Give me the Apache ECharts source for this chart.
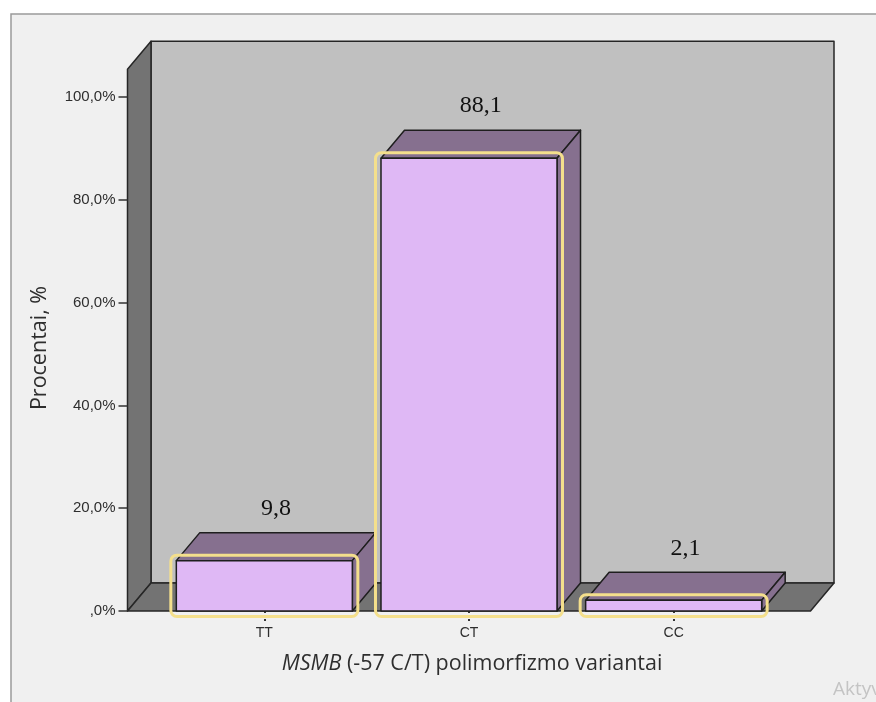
<!DOCTYPE html>
<html>
<head>
<meta charset="utf-8">
<script src="https://cdn.jsdelivr.net/npm/echarts@6/dist/echarts.min.js"></script>
<style>
  html, body { margin: 0; padding: 0; background: #ffffff; }
  #chart { width: 876px; height: 702px; }
</style>
</head>
<body>
<div id="chart"></div>
<script>
// Genotype frequencies, percent
const categories = ['TT', 'CT', 'CC'];
const percentValues = [9.8, 88.1, 2.1];
const yTickValues = [0, 20, 40, 60, 80, 100];

// Layout of the pseudo-3D box
const W = 876, H = 702;
const GRID_LEFT = 162, GRID_RIGHT = 100, GRID_TOP = 97, GRID_BOTTOM = 91;
const SIDE_PAD = 34.5;          // floor margin outside the outer bands
const DEPTH_X = 23.5, DEPTH_Y = -28;
const WALL_TOP = 105.4;         // value where the walls end
const BAR_RATIO = 0.86;

function fmtPct(v) { return v === 0 ? ',0%' : v.toFixed(1).replace('.', ',') + '%'; }
function fmtVal(v) { return v.toFixed(1).replace('.', ','); }

function renderBar(params, api) {
  const idx = api.value(0), v = api.value(1);
  const base = api.coord([idx, 0]);
  const top = api.coord([idx, v]);
  const bw = api.size([1, 0])[0] * BAR_RATIO;
  const x0 = base[0] - bw / 2, x1 = base[0] + bw / 2;
  const yb = base[1], yt = top[1];
  const edge = { stroke: '#1e1e1e', lineWidth: 1.5, lineJoin: 'round' };
  return {
    type: 'group',
    children: [
      { type: 'polygon', shape: { points: [[x0, yt], [x0 + DEPTH_X, yt + DEPTH_Y], [x1 + DEPTH_X, yt + DEPTH_Y], [x1, yt]] },
        style: Object.assign({ fill: '#86708f' }, edge) },
      { type: 'polygon', shape: { points: [[x1, yt], [x1 + DEPTH_X, yt + DEPTH_Y], [x1 + DEPTH_X, yb + DEPTH_Y], [x1, yb]] },
        style: Object.assign({ fill: '#86708f' }, edge) },
      { type: 'rect', shape: { x: x0, y: yt, width: bw, height: yb - yt },
        style: Object.assign({ fill: '#dfb8f5' }, edge) },
      { type: 'rect', shape: { x: x0 - 5.5, y: yt - 5.5, width: bw + 11, height: yb - yt + 11, r: 6 },
        style: { fill: 'none', stroke: '#f4df8c', lineWidth: 3 } },
      { type: 'text', x: base[0] + DEPTH_X / 2, y: yt + DEPTH_Y - 24,
        style: { text: fmtVal(v), font: '24px "Liberation Serif"', fill: '#111111', align: 'center', verticalAlign: 'middle' } }
    ]
  };
}

const chart = echarts.init(document.getElementById('chart'), null, { renderer: 'canvas' });

chart.setOption({
  backgroundColor: '#ffffff',
  animation: false,
  grid: { left: GRID_LEFT, right: GRID_RIGHT, top: GRID_TOP, bottom: GRID_BOTTOM },
  xAxis: {
    type: 'category',
    data: categories,
    axisLine: { show: false },
    axisTick: { show: true, alignWithLabel: true, length: 11, lineStyle: { color: '#333333', width: 2, type: [2, 2] } },
    axisLabel: { color: '#2e2e2e', fontSize: 14, fontFamily: 'Liberation Sans', margin: 15 },
    splitLine: { show: false }
  },
  yAxis: {
    type: 'value',
    min: 0,
    max: 100,
    interval: 20,
    offset: SIDE_PAD,
    axisLine: { show: false },
    axisTick: { show: true, length: 9, lineStyle: { color: '#333333', width: 1.5 } },
    axisLabel: { color: '#2e2e2e', fontSize: 15, fontFamily: 'Liberation Sans', margin: 12,
      customValues: yTickValues, formatter: fmtPct },
    splitLine: { show: false }
  },
  series: [{
    type: 'custom',
    data: percentValues.map((v, i) => [i, v]),
    encode: { x: 0, y: 1 },
    renderItem: renderBar,
    z: 5
  }]
});

// Walls, floor, frame and axis titles, placed from the axis scales
const y0 = chart.convertToPixel({ yAxisIndex: 0 }, 0);
const yT = chart.convertToPixel({ yAxisIndex: 0 }, WALL_TOP);
const fl = GRID_LEFT - SIDE_PAD;
const fr = W - GRID_RIGHT + SIDE_PAD;
const wallEdge = { stroke: '#262626', lineWidth: 1.5, lineJoin: 'round' };

chart.setOption({
  graphic: [
    { type: 'rect', z: -20, shape: { x: 11, y: 14, width: 900, height: 720 },
      style: { fill: '#f0f0f0', stroke: '#9a9a9a', lineWidth: 1.5 } },
    { type: 'rect', z: -10, shape: { x: fl + DEPTH_X, y: yT + DEPTH_Y, width: fr - fl, height: y0 - yT },
      style: Object.assign({ fill: '#c0c0c0' }, wallEdge) },
    { type: 'polygon', z: -9, shape: { points: [[fl, y0], [fl, yT], [fl + DEPTH_X, yT + DEPTH_Y], [fl + DEPTH_X, y0 + DEPTH_Y]] },
      style: Object.assign({ fill: '#737373' }, wallEdge) },
    { type: 'polygon', z: -9, shape: { points: [[fl, y0], [fr, y0], [fr + DEPTH_X, y0 + DEPTH_Y], [fl + DEPTH_X, y0 + DEPTH_Y]] },
      style: Object.assign({ fill: '#737373' }, wallEdge) },
    { type: 'text', z: 1, x: 40, y: 348, rotation: Math.PI / 2,
      style: { text: 'Procentai, %', font: '21.5px "Open Sans"', fill: '#2e2e2e', align: 'center', verticalAlign: 'middle' } },
    { type: 'text', z: 1, x: 472, y: 664,
      style: { text: '{i|MSMB} (-57 C/T) polimorfizmo variantai', font: '21.5px "Open Sans"', fill: '#2e2e2e',
        align: 'center', verticalAlign: 'middle',
        rich: { i: { fontStyle: 'italic', font: 'italic 21.5px "Open Sans"', fill: '#2e2e2e' } } } },
    { type: 'text', z: 1, x: 833, y: 690,
      style: { text: 'Aktyvinkite Windows', font: '19px "Open Sans"', fill: '#c4c4c4', align: 'left', verticalAlign: 'middle' } }
  ]
});
</script>
</body>
</html>
